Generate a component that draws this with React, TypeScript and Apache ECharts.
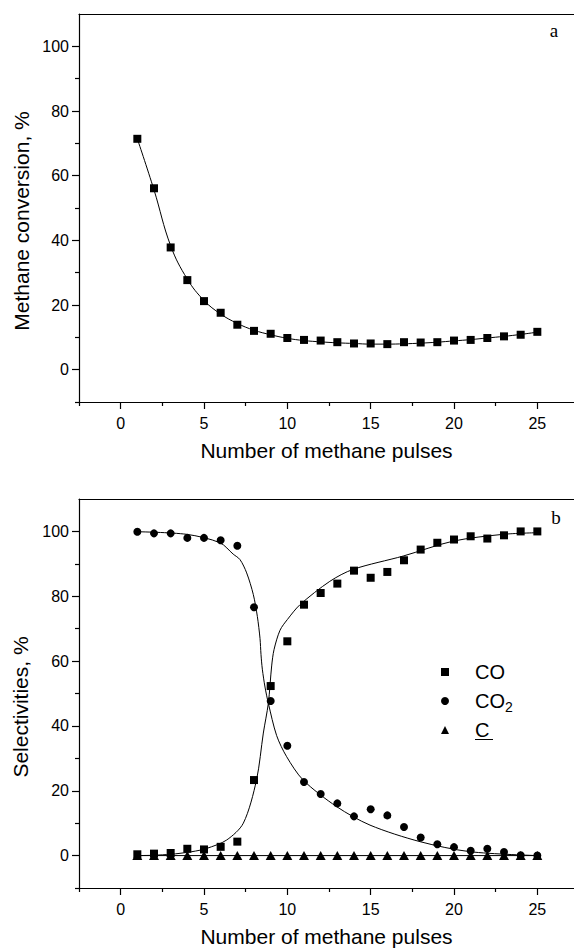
import React, { useEffect, useRef } from "react";
import * as echarts from "echarts";

// ---------- data ----------
const pulses = [1, 2, 3, 4, 5, 6, 7, 8, 9, 10, 11, 12, 13, 14, 15, 16, 17, 18, 19, 20, 21, 22, 23, 24, 25];

// chart a
const conversion = [71.4, 56.1, 37.8, 27.7, 21.2, 17.6, 13.9, 12.0, 11.1, 9.8, 9.2, 9.0, 8.5, 8.1, 8.1, 7.9, 8.5, 8.4, 8.5, 9.0, 9.2, 9.8, 10.3, 10.8, 11.7];
const conversionFit = [71.4, 55.6, 38.3, 28.0, 21.4, 17.2, 14.3, 12.2, 10.8, 9.7, 9.0, 8.6, 8.3, 8.1, 7.9, 7.9, 8.0, 8.2, 8.5, 8.9, 9.3, 9.8, 10.3, 10.9, 11.6];

// chart b
const selCO = [0.4, 0.6, 0.8, 2.1, 1.9, 2.7, 4.3, 23.3, 52.3, 66.1, 77.4, 81.0, 83.9, 87.9, 85.7, 87.5, 91.1, 94.4, 96.5, 97.5, 98.5, 97.8, 98.8, 100, 100];
const selCO2 = [99.9, 99.4, 99.4, 98.0, 98.0, 97.3, 95.6, 76.6, 47.7, 33.9, 22.7, 19.0, 16.1, 12.1, 14.3, 12.4, 8.8, 5.6, 3.5, 2.6, 1.5, 2.1, 1.1, 0.1, 0];
const selC = [0, 0, 0, 0, 0, 0, 0, 0, 0, 0, 0, 0, 0, 0, 0, 0, 0, 0, 0, 0, 0, 0, 0, 0, 0];

const coFitX = [1, 2, 3, 3.56, 4.5, 5.16, 6.36, 7.36, 8.15, 8.56, 8.86, 9.06, 9.2, 9.56, 10.0, 10.76, 12.55, 13.95, 16.95, 19.95, 22.95, 25];
const coFitY = [0, 0.1, 0.4, 0.7, 1.4, 2.2, 4.8, 10, 23.3, 37.8, 47, 58.5, 63.5, 69.5, 72.8, 77.4, 84.6, 88.3, 92.4, 97, 99.1, 99.6];
const co2FitX = [1, 3.96, 5.96, 6.75, 7.16, 7.56, 7.96, 8.2, 8.36, 8.42, 8.5, 8.66, 8.86, 9.36, 9.96, 10.95, 12.96, 14.96, 17.96, 20.96, 25];
const co2FitY = [99.9, 99.1, 96.5, 93, 91.3, 87.2, 80.5, 73.8, 67, 62, 57.5, 52, 47, 37, 30.5, 23.3, 15.1, 9.4, 4.3, 1.2, 0];

// axes / ticks
const xMajorTicks = [0, 5, 10, 15, 20, 25];
const xMinorTicks = [-2.5, 2.5, 7.5, 12.5, 17.5, 22.5];
const yMajorTicks = [0, 20, 40, 60, 80, 100];
const yMinorTicks = [-10, 10, 30, 50, 70, 90];
const xName = "Number of methane pulses";
const yNameA = "Methane conversion, %";
const yNameB = "Selectivities, %";
const legendNames = ["CO", "CO2", "C"];

const FONT = "'Liberation Sans', Arial, Helvetica, sans-serif";
const SERIF = "'Liberation Serif', 'Times New Roman', serif";
const X_MIN = -2.5;
const X_MAX = 27.2;
const Y_MIN = -10;
const Y_MAX = 110;

function pairs(xs: number[], ys: number[]) {
  return xs.map((x, i) => [x, ys[i]]);
}

function xAxes(gridIndex: number) {
  const base = { type: "value", gridIndex, min: X_MIN, max: X_MAX, splitLine: { show: false } };
  return [
    {
      ...base,
      position: "bottom",
      name: xName,
      nameLocation: "middle",
      nameGap: 38,
      nameTextStyle: { fontFamily: FONT, fontSize: 21, color: "#000" },
      axisLine: { show: true, onZero: false, lineStyle: { color: "#000", width: 1.2 } },
      axisTick: { show: true, inside: false, length: 7, customValues: xMajorTicks, lineStyle: { color: "#000", width: 1.2 } },
      axisLabel: { show: true, customValues: xMajorTicks, margin: 13, fontFamily: FONT, fontSize: 16, color: "#000" },
    },
    {
      ...base,
      position: "bottom",
      axisLine: { show: false, onZero: false },
      axisTick: { show: true, inside: false, length: 4, customValues: xMinorTicks, lineStyle: { color: "#000", width: 1.2 } },
      axisLabel: { show: false },
    },
    {
      ...base,
      position: "top",
      axisLine: { show: true, onZero: false, lineStyle: { color: "#000", width: 1.2 } },
      axisTick: { show: false },
      axisLabel: { show: false },
    },
  ];
}

function yAxes(gridIndex: number) {
  const base = { type: "value", gridIndex, min: Y_MIN, max: Y_MAX, splitLine: { show: false } };
  return [
    {
      ...base,
      position: "left",
      axisLine: { show: true, onZero: false, lineStyle: { color: "#000", width: 1.2 } },
      axisTick: { show: true, inside: false, length: 7, customValues: yMajorTicks, lineStyle: { color: "#000", width: 1.2 } },
      axisLabel: { show: true, customValues: yMajorTicks, margin: 10, fontFamily: FONT, fontSize: 16, color: "#000" },
    },
    {
      ...base,
      position: "left",
      axisLine: { show: false, onZero: false },
      axisTick: { show: true, inside: false, length: 4, customValues: yMinorTicks, lineStyle: { color: "#000", width: 1.2 } },
      axisLabel: { show: false },
    },
  ];
}

export default function App() {
  const ref = useRef<HTMLDivElement>(null);

  useEffect(() => {
    if (!ref.current) return;
    const chart = echarts.init(ref.current, undefined, { renderer: "svg" });

    const lineStyle = { color: "#000", width: 1, opacity: 1 };
    const markStyle = { color: "#000", opacity: 1 };
    const option: any = {
      animation: false,
      backgroundColor: "#fff",
      grid: [
        { left: 79, right: 0, top: 14, bottom: 546, containLabel: false },
        { left: 79, right: 0, top: 499, bottom: 59, containLabel: false },
      ],
      xAxis: [...xAxes(0), ...xAxes(1)],
      yAxis: [...yAxes(0), ...yAxes(1)],
      legend: {
        data: legendNames,
        orient: "vertical",
        left: 436,
        top: 657,
        itemWidth: 8,
        itemHeight: 8,
        itemGap: 6,
        selectedMode: false,
        itemStyle: { opacity: 1 },
        formatter: (name: string) => (name === "CO2" ? "{n|CO}{s|2}" : "{n|" + name + "}"),
        textStyle: {
          color: "#000",
          fontFamily: FONT,
          fontSize: 20,
          padding: [0, 0, 0, 21],
          rich: {
            n: { fontFamily: FONT, fontSize: 20, lineHeight: 22, color: "#000" },
            s: { fontFamily: FONT, fontSize: 14, lineHeight: 14, padding: [12, 0, 0, 0], color: "#000" },
          },
        },
      },
      graphic: [
        {
          type: "text",
          x: 21,
          y: 221,
          rotation: Math.PI / 2,
          style: { text: yNameA, fontFamily: FONT, fontSize: 21, fill: "#000", textAlign: "center", textVerticalAlign: "middle" },
        },
        {
          type: "text",
          x: 20,
          y: 707,
          rotation: Math.PI / 2,
          style: { text: yNameB, fontFamily: FONT, fontSize: 21, fill: "#000", textAlign: "center", textVerticalAlign: "middle" },
        },
        {
          type: "text",
          x: 554,
          y: 30,
          style: { text: "a", fontFamily: SERIF, fontSize: 19, fill: "#000", textAlign: "center", textVerticalAlign: "middle" },
        },
        {
          type: "text",
          x: 556,
          y: 517,
          style: { text: "b", fontFamily: SERIF, fontSize: 19, fill: "#000", textAlign: "center", textVerticalAlign: "middle" },
        },
        {
          type: "line",
          shape: { x1: 475, y1: 739.5, x2: 493, y2: 739.5 },
          style: { stroke: "#000", lineWidth: 1 },
        },
      ],
      series: [
        {
          name: "conversion fit",
          type: "line",
          xAxisIndex: 0,
          yAxisIndex: 0,
          data: pairs(pulses, conversionFit),
          smooth: 0.4,
          symbol: "none",
          lineStyle,
          silent: true,
        },
        {
          name: "conversion",
          type: "scatter",
          xAxisIndex: 0,
          yAxisIndex: 0,
          data: pairs(pulses, conversion),
          symbol: "rect",
          symbolSize: 8,
          itemStyle: markStyle,
        },
        {
          name: "CO fit",
          type: "line",
          xAxisIndex: 3,
          yAxisIndex: 2,
          data: pairs(coFitX, coFitY),
          smooth: 0.3,
          symbol: "none",
          lineStyle,
          silent: true,
        },
        {
          name: "CO2 fit",
          type: "line",
          xAxisIndex: 3,
          yAxisIndex: 2,
          data: pairs(co2FitX, co2FitY),
          smooth: 0.3,
          symbol: "none",
          lineStyle,
          silent: true,
        },
        {
          name: "C fit",
          type: "line",
          xAxisIndex: 3,
          yAxisIndex: 2,
          data: pairs(pulses, selC),
          symbol: "none",
          lineStyle,
          silent: true,
        },
        {
          name: "CO",
          type: "scatter",
          xAxisIndex: 3,
          yAxisIndex: 2,
          data: pairs(pulses, selCO),
          symbol: "rect",
          symbolSize: 8,
          itemStyle: markStyle,
        },
        {
          name: "CO2",
          type: "scatter",
          xAxisIndex: 3,
          yAxisIndex: 2,
          data: pairs(pulses, selCO2),
          symbol: "circle",
          symbolSize: 8,
          itemStyle: markStyle,
        },
        {
          name: "C",
          type: "scatter",
          xAxisIndex: 3,
          yAxisIndex: 2,
          data: pairs(pulses, selC),
          symbol: "triangle",
          symbolSize: [10, 9],
          itemStyle: markStyle,
        },
      ],
    };

    chart.setOption(option);
    return () => chart.dispose();
  }, []);

  return (
    <div
      ref={ref}
      style={{ position: "absolute", left: 0, top: 0, width: 574, height: 948, background: "#fff" }}
    />
  );
}
